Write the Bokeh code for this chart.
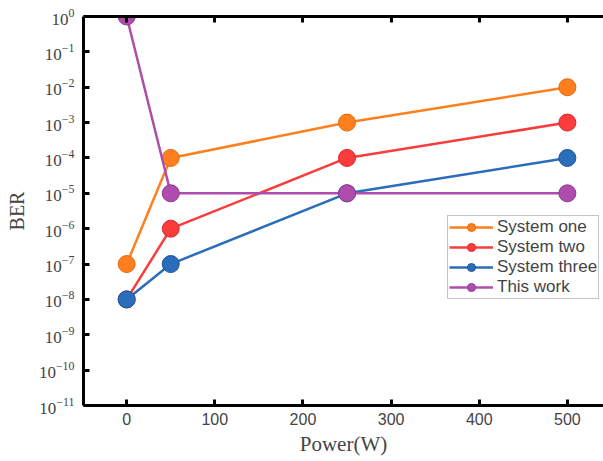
from bokeh.plotting import figure
from bokeh.models import Range1d, LinearAxis, FixedTicker, Legend, LegendItem
from bokeh.embed import file_html
from bokeh.resources import INLINE

power = [0, 50, 250, 500]
system_one = [1e-7, 1e-4, 1e-3, 1e-2]
system_two = [1e-8, 1e-6, 1e-4, 1e-3]
system_three = [1e-8, 1e-7, 1e-5, 1e-4]
this_work = [1e0, 1e-5, 1e-5, 1e-5]

series_names = ["System one", "System two", "System three", "This work"]
x_ticks = [0, 100, 200, 300, 400, 500]
y_ticks = [10.0 ** e for e in range(-11, 1)]

colors = ["#FF7F1E", "#FA3C3C", "#2A6DBA", "#B04CAE"]
edge_colors = ["#E06A10", "#D82A2A", "#1F5598", "#8E3A8C"]

p = figure(width=603, height=458, y_axis_type="log",
           x_range=Range1d(-49, 541), y_range=Range1d(1e-11, 1e0),
           output_backend="svg", toolbar_location=None,
           min_border_left=83, min_border_right=0, min_border_top=16,
           min_border_bottom=40)
p.outline_line_color = None
p.grid.visible = False

# bottom axis
xa = p.xaxis[0]
xa.ticker = FixedTicker(ticks=x_ticks)
xa.axis_label = "Power(W)"
xa.axis_label_text_font = "Liberation Serif"
xa.axis_label_text_font_style = "normal"
xa.axis_label_text_font_size = "21px"
xa.axis_label_standoff = 4
xa.major_label_text_font = "Liberation Sans"
xa.major_label_text_font_size = "16px"
xa.major_label_standoff = 7
xa.axis_line_width = 3
xa.major_tick_line_width = 3
xa.major_tick_in = 6
xa.major_tick_out = 0
xa.minor_tick_line_color = None

# left axis
ya = p.yaxis[0]
ya.ticker = FixedTicker(ticks=y_ticks)
ya.axis_label = "BER"
ya.axis_label_text_font = "Liberation Serif"
ya.axis_label_text_font_style = "normal"
ya.axis_label_text_font_size = "20px"
ya.axis_label_standoff = 8
ya.major_label_text_font = "Liberation Serif"
ya.major_label_text_font_size = "17px"
ya.major_label_standoff = 9
ya.axis_line_width = 3
ya.major_tick_line_width = 3
ya.major_tick_in = 6
ya.major_tick_out = 0
ya.minor_tick_line_color = None

# top axis (frame line with inward ticks, no labels)
top = LinearAxis(ticker=FixedTicker(ticks=x_ticks))
top.major_label_text_color = None
top.major_label_text_font_size = "1px"
top.major_label_standoff = 0
top.axis_line_width = 3
top.major_tick_line_width = 3
top.major_tick_in = 6
top.major_tick_out = 0
top.minor_tick_line_color = None
p.add_layout(top, "above")

items = []
for name, ys, c, ec in zip(series_names,
                           [system_one, system_two, system_three, this_work],
                           colors, edge_colors):
    ln = p.line(power, ys, line_color=c, line_width=2.5)
    sc = p.scatter(power, ys, size=17, fill_color=c, line_color=ec, line_width=1)
    items.append(LegendItem(label=name, renderers=[ln, sc]))

legend = Legend(items=items, location=(364, 106))
legend.label_text_font = "Liberation Sans"
legend.label_text_font_size = "17px"
legend.glyph_width = 44
legend.glyph_height = 20
legend.spacing = 0
legend.padding = 1
legend.margin = 0
legend.label_standoff = 4
legend.label_height = 20
legend.border_line_color = "#888888"
legend.border_line_width = 1
legend.background_fill_alpha = 1
p.add_layout(legend, "center")

open("out.html", "w").write(file_html(p, INLINE))
